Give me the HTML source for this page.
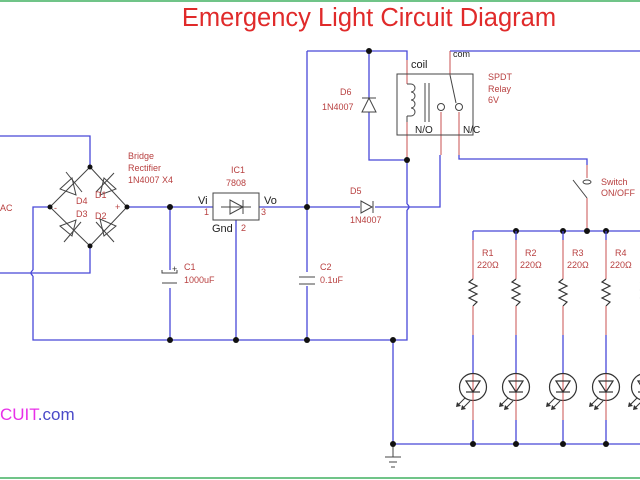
<!DOCTYPE html>
<html><head><meta charset="utf-8"><style>
html,body{margin:0;padding:0;background:#fff;}
svg{display:block}
text{font-family:"Liberation Sans",sans-serif;}
</style></head><body>
<svg width="640" height="480" viewBox="0 0 640 480" xmlns="http://www.w3.org/2000/svg">
<defs>
<g id="col">
  <line x1="0" y1="231" x2="0" y2="240" stroke="#4848d8" stroke-width="1.3"/>
  <line x1="0" y1="240" x2="0" y2="279" stroke="#c85050" stroke-width="1"/>
  <polyline points="0,279 -4,282 4,286 -4,290 4,294 -4,298 4,302 0,306" fill="none" stroke="#333" stroke-width="1.2"/>
  <line x1="0" y1="306" x2="0" y2="335" stroke="#c85050" stroke-width="1"/>
  <line x1="0" y1="335" x2="0" y2="374" stroke="#4848d8" stroke-width="1.3"/>
  <circle cx="0" cy="387" r="13.5" fill="none" stroke="#333" stroke-width="1.2"/>
  <line x1="0" y1="374" x2="0" y2="400" stroke="#c85050" stroke-width="1"/>
  <polygon points="-7,381 7,381 0,392" fill="none" stroke="#333" stroke-width="1.2"/>
  <line x1="-7" y1="392" x2="7" y2="392" stroke="#333" stroke-width="1.2"/>
  <line x1="-8" y1="398" x2="-16" y2="406" stroke="#333"/><polygon points="-17,407 -16,402 -12,406" fill="#333"/>
  <line x1="-3" y1="401" x2="-11" y2="409" stroke="#333"/><polygon points="-12,410 -11,405 -7,409" fill="#333"/>
  <line x1="0" y1="400" x2="0" y2="420" stroke="#c85050" stroke-width="1"/>
  <line x1="0" y1="420" x2="0" y2="444" stroke="#4848d8" stroke-width="1.3"/>
  <circle cx="0" cy="444" r="3" fill="#111"/>
</g>
</defs>
<line x1="0" y1="1" x2="640" y2="1" stroke="#40b060" stroke-width="1.5"/>
<line x1="0" y1="478" x2="640" y2="478" stroke="#40b060" stroke-width="1.5"/>
<text x="369" y="26" font-size="25.5" fill="#e02a2a" text-anchor="middle">Emergency Light Circuit Diagram</text>

<g fill="none" stroke="#4848d8" stroke-width="1.3">
  <polyline points="0,136 90,136 90,167"/>
  <polyline points="90,246 90,273 0,273"/>
  <polyline points="50,207 33,207 33,270"/>
  <path d="M33,270 q-4,3 0,6"/>
  <polyline points="33,276 33,340 407,340 407,210"/>
  <path d="M407,210 q4,-3 0,-6"/>
  <polyline points="407,204 407,160"/>
  <polyline points="127,207 213,207"/>
  <polyline points="259,207 360,207"/>
  <polyline points="375,207 440,207 440,155"/>
  <polyline points="170,207 170,270"/><polyline points="170,288 170,340"/>
  <polyline points="236,220 236,340"/>
  <polyline points="307,51 307,272"/><polyline points="307,286 307,340"/>
  <polyline points="307,51 407,51 407,60"/>
  <polyline points="369,51 369,98"/><polyline points="369,112 369,160 407,160"/>
  <polyline points="459,155 459,159 587,159 587,165"/>
  <polyline points="450,51 640,51"/>
  <polyline points="473,231 640,231"/>
  <polyline points="393,340 393,444 640,444"/>
</g>
<g fill="none" stroke="#c85050" stroke-width="1">
  <polyline points="407,60 407,84"/><polyline points="407,122 407,160"/>
  <polyline points="450,51 450,75"/>
  <line x1="441" y1="112" x2="441" y2="155"/>
  <line x1="459" y1="112" x2="459" y2="155"/>
  <line x1="587" y1="165" x2="587" y2="178"/>
  <line x1="587" y1="198" x2="587" y2="231"/>
</g>
<!-- bridge -->
<g fill="none" stroke="#444" stroke-width="1">
  <polygon points="90,167 127,207 90,246 50,207"/>
  <polygon points="60,189 72,178 76,195"/><line x1="66" y1="172" x2="82" y2="192"/>
  <polygon points="104,178 116,189 100,195"/><line x1="96" y1="192" x2="114" y2="173"/>
  <polygon points="60,226 76,220 72,236"/><line x1="64" y1="242" x2="81" y2="222"/>
  <polygon points="104,236 100,219 116,226"/><line x1="96" y1="222" x2="114" y2="242"/>
  <rect x="213" y="193" width="46" height="27"/>
  <line x1="221" y1="207" x2="251" y2="207"/>
  <polygon points="230,200 230,214 243,207"/><line x1="243" y1="200" x2="243" y2="214"/>
  <polygon points="361,201 361,213 372,207"/><line x1="373" y1="201" x2="373" y2="213"/>
  <polygon points="362,112 376,112 369,98"/><line x1="362" y1="98" x2="376" y2="98"/>
  <line x1="162" y1="283" x2="177" y2="283"/><path d="M162,270 v3 h15 v-3"/>
  <line x1="299" y1="277" x2="315" y2="277"/><line x1="299" y1="284" x2="315" y2="284"/>
  <rect x="397" y="74" width="76" height="61"/>
  <path d="M407,84 h4 a4,4 0 0 1 0,8 a4,4 0 0 1 0,8 a4,4 0 0 1 0,8 a4,4 0 0 1 0,8 h-4 M407,116 v6"/>
  <line x1="425" y1="83" x2="425" y2="122"/><line x1="429" y1="83" x2="429" y2="122"/>
  <circle cx="441" cy="107" r="3.5"/><circle cx="459" cy="107" r="3.5"/>
  <line x1="450" y1="75" x2="456" y2="103"/>
  <ellipse cx="587" cy="182" rx="4" ry="2"/>
  <line x1="587" y1="198" x2="573" y2="180"/>
  <line x1="385" y1="457" x2="401" y2="457"/><line x1="389" y1="462" x2="397" y2="462"/><line x1="391" y1="467" x2="395" y2="467"/>
  <line x1="393" y1="444" x2="393" y2="457"/>
</g>
<g fill="#111">
  <circle cx="90" cy="167" r="2.5"/><circle cx="90" cy="246" r="2.5"/><circle cx="50" cy="207" r="2.5"/><circle cx="127" cy="207" r="2.5"/>
  <circle cx="170" cy="207" r="3"/><circle cx="307" cy="207" r="3"/><circle cx="369" cy="51" r="3"/><circle cx="407" cy="160" r="3"/>
  <circle cx="170" cy="340" r="3"/><circle cx="236" cy="340" r="3"/><circle cx="307" cy="340" r="3"/><circle cx="393" cy="340" r="3"/>
  <circle cx="393" cy="444" r="3"/>
  <circle cx="516" cy="231" r="3"/><circle cx="563" cy="231" r="3"/><circle cx="587" cy="231" r="3"/><circle cx="606" cy="231" r="3"/>
</g>
<use href="#col" x="473"/><use href="#col" x="516"/><use href="#col" x="563"/><use href="#col" x="606"/><use href="#col" x="645"/>
<g font-size="9" fill="#b84040">
  <text x="0" y="211">AC</text>
  <text x="128" y="159">Bridge</text><text x="128" y="171">Rectifier</text><text x="128" y="183">1N4007 X4</text>
  <text x="76" y="204">D4</text><text x="95" y="198">D1</text><text x="76" y="217">D3</text><text x="95" y="219">D2</text>
  <text x="54" y="211">-</text><text x="115" y="210">+</text>
  <text x="231" y="173">IC1</text><text x="226" y="186">7808</text>
  <text x="204" y="215">1</text><text x="261" y="215">3</text><text x="241" y="231">2</text>
  <text x="184" y="270">C1</text><text x="184" y="283">1000uF</text><text x="172" y="272" fill="#333">+</text>
  <text x="320" y="270">C2</text><text x="320" y="283">0.1uF</text>
  <text x="350" y="194">D5</text><text x="350" y="223">1N4007</text>
  <text x="340" y="95">D6</text><text x="322" y="110">1N4007</text>
  <text x="488" y="80">SPDT</text><text x="488" y="92">Relay</text><text x="488" y="103">6V</text>
  <text x="601" y="185">Switch</text><text x="601" y="196">ON/OFF</text>
  <text x="482" y="256">R1</text><text x="477" y="268">220Ω</text>
  <text x="525" y="256">R2</text><text x="520" y="268">220Ω</text>
  <text x="572" y="256">R3</text><text x="567" y="268">220Ω</text>
  <text x="615" y="256">R4</text><text x="610" y="268">220Ω</text>
</g>
<g font-size="11" fill="#222">
  <text x="198" y="204">Vi</text><text x="264" y="204">Vo</text><text x="212" y="232">Gnd</text>
  <text x="411" y="68">coil</text>
  <text x="415" y="133" font-size="10">N/O</text><text x="463" y="133" font-size="10">N/C</text>
  <text x="453" y="57" font-size="9">com</text>
</g>
<text x="0" y="420" font-size="17"><tspan fill="#e830e8">CUIT</tspan><tspan fill="#4a4ac8">.com</tspan></text>
</svg>
</body></html>
